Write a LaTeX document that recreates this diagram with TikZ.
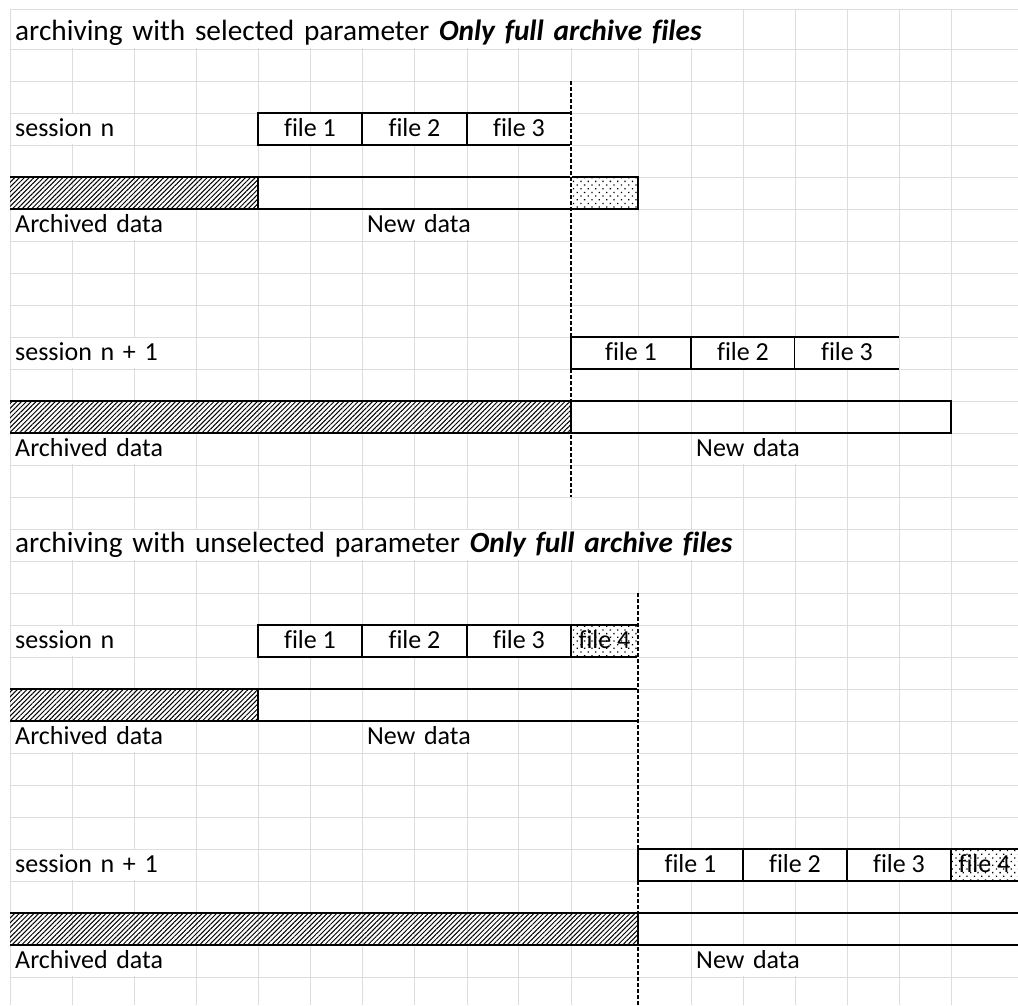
\documentclass[tikz,border=0pt]{standalone}
\usepackage{fontspec}
\setmainfont{Carlito}[Ligatures=NoCommon]
\usepackage{tikz}
\usetikzlibrary{positioning, patterns.meta}
\definecolor{gridgray}{HTML}{DDDDDD}
\newcommand{\txtsize}{\fontsize{26}{30}\selectfont}
\newcommand{\ttlsize}{\fontsize{29.3}{34}\selectfont}
\tikzset{
  gridline/.style={draw=gridgray, line width=1pt},
  celltext/.style={anchor=base west, fill=white, inner xsep=4.4pt, inner ysep=0pt, text height=22.4pt, text depth=8.4pt, align=left, font=\txtsize},
  heading/.style={celltext, font=\ttlsize},
  filebox/.style={draw, line width=1.3pt, fill=white, anchor=base, inner sep=0pt, outer sep=0pt, text height=23pt, text depth=9pt, font=\txtsize},
  newfile/.style={filebox, preaction={fill=white}, pattern={Dots[angle=45, distance=5.2pt, radius=0.9pt]}},
  barline/.style={line width=1.3pt},
  archived/.style={pattern={Lines[angle=45, distance=3.4pt, line width=1pt]}},
  newpart/.style={barline, preaction={fill=white}, pattern={Dots[angle=45, distance=5.2pt, radius=0.9pt]}},
  cutline/.style={preaction={draw=white, solid, line width=2.4pt}, draw=black, dash pattern=on 4pt off 2pt, line width=1.3pt},
}

\begin{document}
\begin{tikzpicture}[x=1pt, y=-1pt]

  \useasboundingbox (0,0) rectangle (1018,1005);
  \fill[white] (0,0) rectangle (1018,1005);

  % Grid
  \foreach \x in {10,72,134,196,258,310,362,414,467,518,571,638,691,743,795,847,899,951}
    \draw[gridline] (\x,9) -- (\x,1005);
  \foreach \y in {9,49,81,...,1009}
    \draw[gridline] (10,\y) -- (1018,\y);

  % Selected parameter: session n
  \node[heading, text height=30.4pt, text width=723pt] (ttlsel) at (10.6,40) {\mbox{archiving with selected parameter \textbf{\textit{Only full archive files}}}};
  \node[celltext, text width=114pt] (sesa) at (10.6,136) {session n};
  \node[filebox, minimum width=104pt] (afa) at (310,136) {file 1};
  \node[filebox, minimum width=105pt] (afb) at (414.5,136) {file 2};
  \node[filebox, minimum width=104pt] (afc) at (519,136) {file 3};
  \fill[archived] (10,177) rectangle (258,209);
  \draw[barline] (10,177) -- (571,177) (10,209) -- (571,209);
  \draw[newpart] (571,177) rectangle (638,209);
  \draw[line width=2.3pt] (258,177) -- (258,209);
  \node[celltext, text width=176pt] (arca) at (10.6,232) {Archived data};
  \node[celltext, text width=146pt] (newa) at (362.6,232) {New data};

  \draw[cutline] (571,81) -- (571,497);

  % Selected parameter: session n + 1
  \node[celltext, text width=176pt] (sesb) at (10.6,360) {session n + 1};
  \node[filebox, minimum width=120pt] (bfa) at (631,360) {file 1};
  \node[filebox, minimum width=104pt] (bfb) at (743,360) {file 2};
  \node[filebox, draw=none, minimum width=104pt] (bfc) at (847,360) {file 3};
  \draw[barline] (bfc.north west) -- (bfc.north east) (bfc.south west) -- (bfc.south east);
  \fill[archived] (10,401) rectangle (571,433);
  \draw[barline] (10,401) -- (951,401) -- (951,433) -- (10,433);
  \draw[line width=2.3pt] (571,401) -- (571,433);
  \node[celltext, text width=176pt] (arcb) at (10.6,456) {Archived data};
  \node[celltext, text width=146pt] (newb) at (691.6,456) {New data};

  % Unselected parameter: session n
  \node[heading, text width=723pt] (ttlunsel) at (10.6,552) {\mbox{archiving with unselected parameter \textbf{\textit{Only full archive files}}}};
  \node[celltext, text width=114pt] (sesc) at (10.6,648) {session n};
  \node[filebox, minimum width=104pt] (cfa) at (310,648) {file 1};
  \node[filebox, minimum width=105pt] (cfb) at (414.5,648) {file 2};
  \node[filebox, minimum width=104pt] (cfc) at (519,648) {file 3};
  \node[newfile, minimum width=67pt] (cfd) at (604.5,648) {file 4};
  \fill[archived] (10,689) rectangle (258,721);
  \draw[barline] (10,689) -- (638,689) (10,721) -- (638,721);
  \draw[line width=2.3pt] (258,689) -- (258,721);
  \node[celltext, text width=176pt] (arcc) at (10.6,744) {Archived data};
  \node[celltext, text width=146pt] (newc) at (362.6,744) {New data};

  \draw[cutline] (638,593) -- (638,1010);

  % Unselected parameter: session n + 1
  \node[celltext, text width=176pt] (sesd) at (10.6,872) {session n + 1};
  \node[filebox, minimum width=105pt] (dfa) at (690.5,872) {file 1};
  \node[filebox, minimum width=104pt] (dfb) at (795,872) {file 2};
  \node[filebox, minimum width=104pt] (dfc) at (899,872) {file 3};
  \node[newfile, draw=none, minimum width=67pt] (dfd) at (984.5,872) {file 4};
  \draw[barline] (1025,849) -- (dfd.north west) -- (dfd.south west) -- (1025,881);
  \fill[archived] (10,913) rectangle (638,945);
  \draw[barline] (10,913) -- (1025,913) (10,945) -- (1025,945);
  \draw[line width=2.3pt] (638,913) -- (638,945);
  \node[celltext, text width=176pt] (arcd) at (10.6,968) {Archived data};
  \node[celltext, text width=146pt] (newd) at (691.6,968) {New data};

\end{tikzpicture}
\end{document}
